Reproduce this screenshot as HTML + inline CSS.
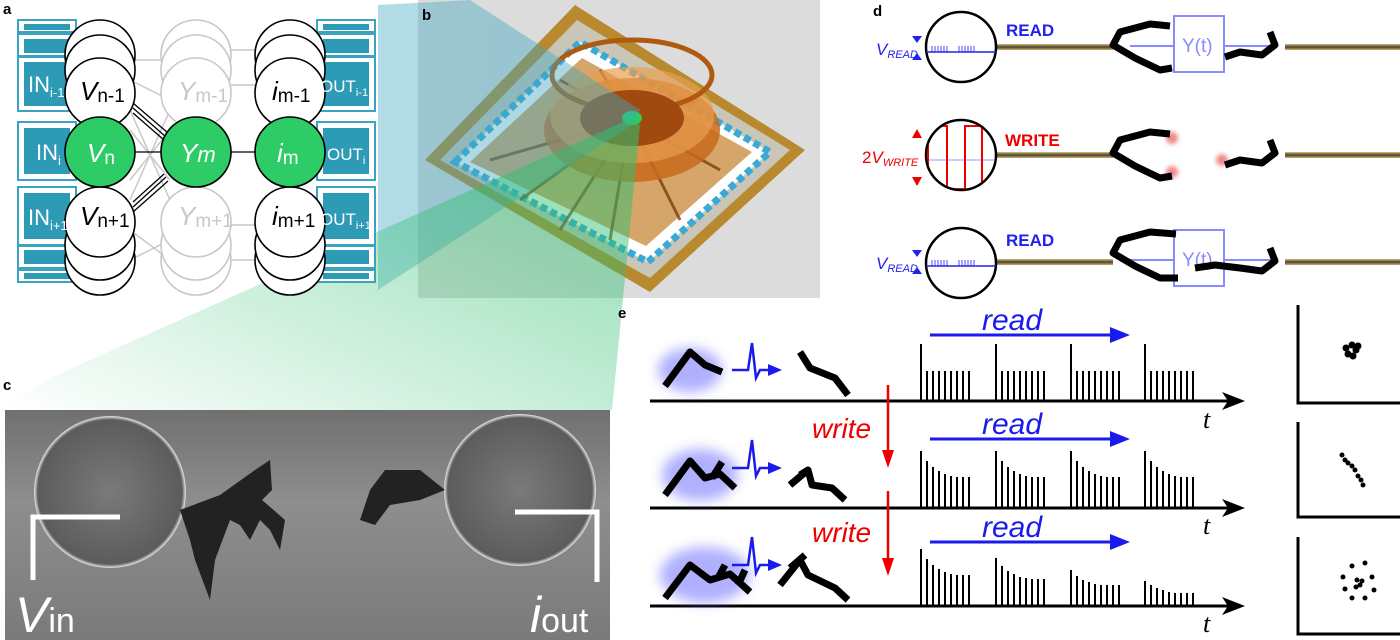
<!DOCTYPE html>
<html><head><meta charset="utf-8"><style>
html,body{margin:0;padding:0;background:#fff;}
svg{display:block;font-family:"Liberation Sans",sans-serif;}
</style></head><body>
<svg width="1400" height="640" viewBox="0 0 1400 640" xmlns="http://www.w3.org/2000/svg">
<defs>
<linearGradient id="tealg" x1="0" y1="0" x2="1" y2="0"><stop offset="0" stop-color="#3fa6c0" stop-opacity="0.4"/><stop offset="1" stop-color="#3fa6c0" stop-opacity="0.45"/></linearGradient>
<linearGradient id="greeng" x1="0" y1="1" x2="1" y2="0"><stop offset="0" stop-color="#2fbf70" stop-opacity="0"/><stop offset="0.5" stop-color="#2fbf70" stop-opacity="0.3"/><stop offset="1" stop-color="#2fbf70" stop-opacity="0.6"/></linearGradient>
<linearGradient id="wire" x1="0" y1="0" x2="0" y2="1"><stop offset="0" stop-color="#d9c27a"/><stop offset="0.5" stop-color="#4a4030"/><stop offset="1" stop-color="#c9b270"/></linearGradient>
<linearGradient id="sem" x1="0" y1="0" x2="0" y2="1"><stop offset="0" stop-color="#707070"/><stop offset="0.4" stop-color="#8e8e8e"/><stop offset="1" stop-color="#7a7a7a"/></linearGradient>
<radialGradient id="disk" cx="0.5" cy="0.5" r="0.5"><stop offset="0" stop-color="#7a7a7a"/><stop offset="0.95" stop-color="#5c5c5c"/><stop offset="1" stop-color="#e8e8e8"/></radialGradient>
<clipPath id="cw"><circle cx="961" cy="155" r="34"/></clipPath>
<filter id="glow"><feGaussianBlur stdDeviation="6"/></filter>
<filter id="bl2"><feGaussianBlur stdDeviation="2"/></filter>
</defs>

<rect x="418" y="0" width="402" height="298" fill="#dcdcdc"/>
<polygon points="425,160 575,5 805,150 650,292" fill="#b8892e"/>
<polygon points="440,160 577,20 790,150 650,278" fill="#c9c6b8"/>
<polygon points="455,162 580,42 770,152 648,262" fill="#ffffff"/>
<polygon points="455,162 580,42 770,152 648,262" fill="none" stroke="#3ba9d6" stroke-width="7" stroke-dasharray="7,4"/>
<polygon points="470,162 582,58 752,152 646,246" fill="#d6a56a"/>
<g stroke="#7a3e12" stroke-width="3" opacity="0.8">
<line x1="630" y1="120" x2="490" y2="160"/><line x1="630" y1="120" x2="520" y2="200"/><line x1="630" y1="120" x2="560" y2="230"/><line x1="630" y1="120" x2="610" y2="240"/><line x1="630" y1="120" x2="680" y2="220"/><line x1="630" y1="120" x2="720" y2="170"/><line x1="630" y1="120" x2="700" y2="100"/><line x1="630" y1="120" x2="560" y2="80"/><line x1="630" y1="120" x2="600" y2="70"/>
</g>
<ellipse cx="632" cy="130" rx="88" ry="52" fill="#c86a1a" opacity="0.85"/>
<ellipse cx="632" cy="115" rx="82" ry="48" fill="#e8a050" opacity="0.7"/>
<ellipse cx="632" cy="75" rx="80" ry="35" fill="none" stroke="#b05a10" stroke-width="5"/>
<ellipse cx="632" cy="118" rx="52" ry="28" fill="#a04a10"/>
<ellipse cx="632" cy="118" rx="10" ry="7" fill="#2ecc60"/>

<polygon points="378,5 470,0 640,110 632,125 378,290" fill="url(#tealg)"/>
<polygon points="0,410 50,378 632,118 640,125 612,410" fill="url(#greeng)"/>

<g stroke="#3aa3c0" stroke-width="2" fill="#fff">
<rect x="18" y="20" width="58" height="12"/><rect x="18" y="34" width="58" height="22"/>
<rect x="18" y="57" width="58" height="54"/><rect x="18" y="122" width="58" height="58"/><rect x="18" y="187" width="58" height="58"/>
<rect x="18" y="246" width="58" height="22"/><rect x="18" y="270" width="58" height="12"/>
<rect x="317" y="20" width="58" height="12"/><rect x="317" y="34" width="58" height="22"/>
<rect x="317" y="57" width="58" height="54"/><rect x="317" y="122" width="58" height="58"/><rect x="317" y="187" width="58" height="58"/>
<rect x="317" y="246" width="58" height="22"/><rect x="317" y="270" width="58" height="12"/>
</g>
<g fill="#2e9bb6">
<rect x="24" y="24" width="46" height="6"/><rect x="24" y="39" width="46" height="14"/><rect x="24" y="62" width="46" height="44"/><rect x="24" y="128" width="46" height="46"/><rect x="24" y="193" width="46" height="46"/><rect x="24" y="250" width="46" height="14"/><rect x="24" y="273" width="46" height="6"/>
<rect x="323" y="24" width="46" height="6"/><rect x="323" y="39" width="46" height="14"/><rect x="323" y="62" width="46" height="44"/><rect x="323" y="128" width="46" height="46"/><rect x="323" y="193" width="46" height="46"/><rect x="323" y="250" width="46" height="14"/><rect x="323" y="273" width="46" height="6"/>
</g>
<g stroke="#c8c8c8" stroke-width="1.5">
<line x1="130" y1="60" x2="170" y2="60"/><line x1="130" y1="80" x2="170" y2="100"/><line x1="130" y1="110" x2="170" y2="200"/><line x1="130" y1="200" x2="170" y2="110"/><line x1="130" y1="230" x2="170" y2="260"/><line x1="130" y1="130" x2="170" y2="180"/><line x1="130" y1="180" x2="170" y2="130"/><line x1="130" y1="260" x2="170" y2="240"/>
<line x1="230" y1="50" x2="260" y2="50"/><line x1="230" y1="85" x2="260" y2="85"/><line x1="230" y1="225" x2="260" y2="225"/><line x1="230" y1="260" x2="260" y2="260"/>
</g>
<g fill="#fff" stroke="#000" stroke-width="1.6">
<circle cx="100" cy="55" r="35"/><circle cx="100" cy="70" r="35"/>
<circle cx="100" cy="260" r="35"/><circle cx="100" cy="245" r="35"/>
<circle cx="290" cy="55" r="35"/><circle cx="290" cy="70" r="35"/>
<circle cx="290" cy="260" r="35"/><circle cx="290" cy="245" r="35"/>
</g>
<g fill="#fff" stroke="#c8c8c8" stroke-width="1.6">
<circle cx="196" cy="55" r="35"/><circle cx="196" cy="70" r="35"/><circle cx="196" cy="93" r="35"/>
<circle cx="196" cy="260" r="35"/><circle cx="196" cy="245" r="35"/><circle cx="196" cy="222" r="35"/>
</g>
<g fill="#fff" stroke="#000" stroke-width="1.6">
<circle cx="100" cy="93" r="35"/><circle cx="100" cy="222" r="35"/>
<circle cx="290" cy="93" r="35"/><circle cx="290" cy="222" r="35"/>
</g>
<g stroke="#000" stroke-width="1.3">
<line x1="133" y1="103" x2="168" y2="133"/><line x1="133" y1="108" x2="166" y2="137"/><line x1="133" y1="113" x2="164" y2="140"/>
<line x1="133" y1="212" x2="168" y2="181"/><line x1="133" y1="207" x2="166" y2="177"/><line x1="133" y1="202" x2="164" y2="174"/>
<line x1="135" y1="152" x2="161" y2="152"/><line x1="231" y1="152" x2="255" y2="152"/>
</g>
<g fill="#2ecc66" stroke="#000" stroke-width="1.6">
<circle cx="100" cy="152" r="35"/><circle cx="196" cy="152" r="35"/><circle cx="290" cy="152" r="35"/>
</g>
<g font-size="22" fill="#fff">
<text x="28" y="92">IN<tspan font-size="13" dy="5">i-1</tspan></text>
<text x="36" y="160">IN<tspan font-size="13" dy="5">i</tspan></text>
<text x="28" y="225">IN<tspan font-size="13" dy="5">i+1</tspan></text>
<text x="320" y="92" font-size="17">OUT<tspan font-size="11" dy="4">i-1</tspan></text>
<text x="327" y="160" font-size="17">OUT<tspan font-size="11" dy="4">i</tspan></text>
<text x="320" y="225" font-size="17">OUT<tspan font-size="11" dy="4">i+1</tspan></text>
</g>
<g font-size="26">
<text x="80" y="100"><tspan font-style="italic">V</tspan><tspan font-size="19" dy="2">n-1</tspan></text>
<text x="80" y="225"><tspan font-style="italic">V</tspan><tspan font-size="19" dy="2">n+1</tspan></text>
<text x="87" y="162" fill="#fff"><tspan font-style="italic">V</tspan><tspan font-size="19" dy="2">n</tspan></text>
<text x="178" y="100" fill="#c8c8c8"><tspan font-style="italic">Y</tspan><tspan font-size="19" dy="2">m-1</tspan></text>
<text x="178" y="225" fill="#c8c8c8"><tspan font-style="italic">Y</tspan><tspan font-size="19" dy="2">m+1</tspan></text>
<text x="180" y="162" fill="#fff" font-style="italic">Y<tspan font-size="22">m</tspan></text>
<text x="272" y="100"><tspan font-style="italic">i</tspan><tspan font-size="19" dy="2">m-1</tspan></text>
<text x="272" y="225"><tspan font-style="italic">i</tspan><tspan font-size="19" dy="2">m+1</tspan></text>
<text x="277" y="162" fill="#fff"><tspan font-style="italic">i</tspan><tspan font-size="19" dy="2">m</tspan></text>
</g>

<rect x="5" y="410" width="605" height="230" fill="url(#sem)"/>
<circle cx="110" cy="492" r="76" fill="url(#disk)"/>
<circle cx="520" cy="490" r="76" fill="url(#disk)"/>
<g fill="#222">
<path d="M180,510 L220,495 L255,470 L270,460 L272,490 L262,500 L285,520 L280,550 L270,530 L260,520 L250,540 L240,525 L230,520 L215,560 L210,600 L195,560 L190,540 Z"/>
<path d="M445,490 L420,470 L385,470 L370,490 L360,520 L375,525 L390,505 L420,500 Z"/>
</g>
<g stroke="#fff" stroke-width="5" fill="none">
<path d="M120,517 L33,517 L33,580"/>
<path d="M515,512 L597,512 L597,582"/>
</g>
<text x="15" y="632" font-size="50" fill="#fff" font-style="italic">V<tspan font-style="normal" font-size="34">in</tspan></text>
<text x="530" y="632" font-size="50" fill="#fff" font-style="italic">i<tspan font-style="normal" font-size="34">out</tspan></text>

<g font-size="15" font-weight="bold">
<text x="3" y="14">a</text><text x="422" y="20">b</text><text x="3" y="390">c</text><text x="873" y="16">d</text><text x="618" y="318">e</text>
</g>

<g>
<rect x="997" y="44" width="116" height="6" fill="url(#wire)"/><rect x="1285" y="44" width="115" height="6" fill="url(#wire)"/>
<rect x="997" y="152" width="116" height="6" fill="url(#wire)"/><rect x="1285" y="152" width="115" height="6" fill="url(#wire)"/>
<rect x="997" y="259" width="116" height="6" fill="url(#wire)"/><rect x="1285" y="259" width="115" height="6" fill="url(#wire)"/>
<g fill="#fff" stroke="#000" stroke-width="2.5">
<circle cx="961" cy="47" r="35"/><circle cx="961" cy="155" r="35"/><circle cx="961" cy="263" r="35"/>
</g>
<g stroke="#2222ee" stroke-width="1.5"><line x1="926" y1="52" x2="996" y2="52"/><line x1="926" y1="266" x2="996" y2="266"/></g>
<g stroke="#2222ee" stroke-width="0.8">
<path d="M932,52v-6M935,52v-6M938,52v-6M941,52v-6M944,52v-6M947,52v-6M959,52v-6M962,52v-6M965,52v-6M968,52v-6M971,52v-6M974,52v-6"/>
<path d="M932,266v-6M935,266v-6M938,266v-6M941,266v-6M944,266v-6M947,266v-6M959,266v-6M962,266v-6M965,266v-6M968,266v-6M971,266v-6M974,266v-6"/>
</g>
<line x1="928" y1="160" x2="994" y2="160" stroke="#9a9aff" stroke-width="1"/>
<g clip-path="url(#cw)">
<polyline points="928,185 928,126 947,126 947,189 965,189 965,126 982,126 982,189 993,189" fill="none" stroke="#e00" stroke-width="2"/>
</g>
<g fill="#2222ee"><polygon points="912,36 922,36 917,43"/><polygon points="912,60 922,60 917,53"/><polygon points="912,250 922,250 917,257"/><polygon points="912,274 922,274 917,267"/></g>
<g fill="#e00"><polygon points="912,138 922,138 917,129"/><polygon points="912,177 922,177 917,186"/></g>
<text x="876" y="55" font-size="17" fill="#2222ee" font-style="italic">V<tspan font-size="11" dy="3">READ</tspan></text>
<text x="876" y="269" font-size="17" fill="#2222ee" font-style="italic">V<tspan font-size="11" dy="3">READ</tspan></text>
<text x="862" y="163" font-size="17" fill="#e00">2<tspan font-style="italic">V</tspan><tspan font-size="11" dy="3" font-style="italic">WRITE</tspan></text>
<text x="1006" y="36" font-size="17" font-weight="bold" fill="#2222ee">READ</text>
<text x="1005" y="146" font-size="17" font-weight="bold" fill="#e00">WRITE</text>
<text x="1006" y="246" font-size="17" font-weight="bold" fill="#2222ee">READ</text>
<g fill="none" stroke="#8a8aff" stroke-width="2">
<rect x="1174" y="16" width="50" height="56"/><line x1="1130" y1="46" x2="1174" y2="46"/><line x1="1224" y1="46" x2="1275" y2="46"/>
<rect x="1174" y="230" width="50" height="56"/><line x1="1130" y1="260" x2="1174" y2="260"/><line x1="1224" y1="260" x2="1275" y2="260"/>
</g>
<text x="1182" y="52" font-size="19" fill="#8a8aff">Y(t)</text>
<text x="1182" y="266" font-size="19" fill="#8a8aff">Y(t)</text>
<g fill="#e88" filter="url(#bl2)"><circle cx="1172" cy="138" r="6"/><circle cx="1172" cy="172" r="6"/><circle cx="1222" cy="160" r="6"/></g>
<g fill="none" stroke="#000" stroke-width="7" stroke-linejoin="round">
<path d="M1170,26 L1150,24 L1120,32 L1113,45 L1135,58 L1160,70 L1172,68"/>
<path d="M1225,57 L1240,52 L1262,55 L1275,45 L1270,32"/>
<path d="M1170,134 L1150,132 L1120,140 L1113,153 L1135,166 L1160,178 L1172,176"/>
<path d="M1225,165 L1240,160 L1262,163 L1275,153 L1270,140"/>
<path d="M1176,234 L1150,232 L1120,240 L1113,253 L1135,266 L1160,278 L1178,278"/>
<path d="M1195,268 L1215,265 L1240,268 L1262,271 L1275,261 L1270,248"/>
</g>
</g>

<g stroke="#000" stroke-width="3">
<line x1="650" y1="401" x2="1236" y2="401"/><line x1="650" y1="508" x2="1236" y2="508"/><line x1="650" y1="606" x2="1236" y2="606"/>
</g>
<g fill="#000"><polygon points="1245,401 1222,392 1228,401 1222,410"/><polygon points="1245,508 1222,499 1228,508 1222,517"/><polygon points="1245,606 1222,597 1228,606 1222,615"/></g>
<g font-size="26" font-style="italic" font-family="Liberation Serif,serif"><text x="1203" y="428">t</text><text x="1203" y="534">t</text><text x="1203" y="632">t</text></g>
<g stroke="#000" stroke-width="2">
<path d="M921,401V344 M927,401V371 M933,401V371 M939,401V371 M945,401V371 M951,401V371 M957,401V371 M963,401V371 M969,401V371
M996,401V344 M1002,401V371 M1008,401V371 M1014,401V371 M1020,401V371 M1026,401V371 M1032,401V371 M1038,401V371 M1044,401V371
M1071,401V344 M1077,401V371 M1083,401V371 M1089,401V371 M1095,401V371 M1101,401V371 M1107,401V371 M1113,401V371 M1119,401V371
M1145,401V344 M1151,401V371 M1157,401V371 M1163,401V371 M1169,401V371 M1175,401V371 M1181,401V371 M1187,401V371 M1193,401V371"/>
<path d="M921,508V451 M927,508V461 M933,508V467 M939,508V471 M945,508V474 M951,508V476 M957,508V477 M963,508V477 M969,508V477
M996,508V451 M1002,508V461 M1008,508V467 M1014,508V471 M1020,508V474 M1026,508V476 M1032,508V477 M1038,508V477 M1044,508V477
M1071,508V451 M1077,508V461 M1083,508V467 M1089,508V471 M1095,508V474 M1101,508V476 M1107,508V477 M1113,508V477 M1119,508V477
M1145,508V451 M1151,508V461 M1157,508V467 M1163,508V471 M1169,508V474 M1175,508V476 M1181,508V477 M1187,508V477 M1193,508V477"/>
<path d="M921,606V549 M927,606V559 M933,606V565 M939,606V569 M945,606V572 M951,606V574 M957,606V575 M963,606V575 M969,606V575
M996,606V558 M1002,606V566 M1008,606V571 M1014,606V574 M1020,606V577 M1026,606V578 M1032,606V579 M1038,606V579 M1044,606V579
M1071,606V570 M1077,606V576 M1083,606V580 M1089,606V582 M1095,606V584 M1101,606V585 M1107,606V585 M1113,606V585 M1119,606V585
M1145,606V581 M1151,606V585 M1157,606V588 M1163,606V590 M1169,606V592 M1175,606V593 M1181,606V593 M1187,606V593 M1193,606V593"/>
</g>
<g stroke="#1a1aee" stroke-width="3"><line x1="930" y1="335" x2="1115" y2="335"/><line x1="930" y1="439" x2="1115" y2="439"/><line x1="930" y1="542" x2="1115" y2="542"/></g>
<g fill="#1a1aee"><polygon points="1130,335 1110,327 1110,343"/><polygon points="1130,439 1110,431 1110,447"/><polygon points="1130,542 1110,534 1110,550"/></g>
<g font-size="30" font-style="italic" fill="#1a1aee"><text x="982" y="330">read</text><text x="982" y="434">read</text><text x="982" y="537">read</text></g>
<g stroke="#ee0000" stroke-width="2.5"><line x1="888" y1="385" x2="888" y2="455"/><line x1="888" y1="491" x2="888" y2="563"/></g>
<g fill="#ee0000"><polygon points="888,468 882,450 894,450"/><polygon points="888,576 882,558 894,558"/></g>
<g font-size="28" font-style="italic" fill="#ee0000"><text x="812" y="438">write</text><text x="812" y="542">write</text></g>
<g fill="#7070ff" opacity="0.55" filter="url(#glow)"><ellipse cx="690" cy="370" rx="32" ry="22"/><ellipse cx="700" cy="475" rx="38" ry="26"/><ellipse cx="705" cy="575" rx="45" ry="28"/></g>
<g fill="none" stroke="#000" stroke-width="7" stroke-linejoin="round">
<path d="M665,386 L690,352 L705,365 L722,372"/>
<path d="M800,352 L810,368 L835,378 L848,395"/>
<path d="M665,495 L690,461 L705,478 L720,474 L735,488 M712,478 L722,462"/>
<path d="M800,475 L808,470 L812,485 L832,488 L845,500 M790,485 L808,470"/>
<path d="M665,598 L690,565 L710,580 L730,574 L750,592 M718,578 L725,565 M738,585 L745,570"/>
<path d="M780,585 L800,560 L808,575 L835,588 L848,600 M790,568 L805,555"/>
</g>
<g fill="none" stroke="#1a1aee" stroke-width="2.5">
<polyline points="732,370 748,370 752,343 756,378 760,370 770,370"/>
<polyline points="732,468 748,468 752,440 756,476 760,468 770,468"/>
<polyline points="732,565 748,565 752,537 756,573 760,565 770,565"/>
</g>
<g fill="#1a1aee"><polygon points="782,370 768,364 768,376"/><polygon points="782,468 768,462 768,474"/><polygon points="782,565 768,559 768,571"/></g>
<g stroke="#000" stroke-width="3" fill="none">
<polyline points="1298,305 1298,403 1400,403"/><polyline points="1298,422 1298,517 1400,517"/><polyline points="1298,537 1298,634 1400,634"/>
</g>
<g fill="#000">
<circle cx="1346" cy="348" r="3.5"/><circle cx="1352" cy="345" r="3.5"/><circle cx="1356" cy="350" r="3.5"/><circle cx="1348" cy="354" r="3.5"/><circle cx="1353" cy="356" r="3.5"/><circle cx="1358" cy="346" r="3.5"/>
<circle cx="1342" cy="455" r="2.5"/><circle cx="1345" cy="460" r="2.5"/><circle cx="1348" cy="463" r="2.5"/><circle cx="1352" cy="466" r="2.5"/><circle cx="1355" cy="470" r="2.5"/><circle cx="1358" cy="476" r="2.5"/><circle cx="1361" cy="480" r="2.5"/><circle cx="1363" cy="485" r="2.5"/>
<circle cx="1343" cy="577" r="2.5"/><circle cx="1352" cy="566" r="2.5"/><circle cx="1365" cy="563" r="2.5"/><circle cx="1372" cy="577" r="2.5"/><circle cx="1374" cy="590" r="2.5"/><circle cx="1365" cy="598" r="2.5"/><circle cx="1352" cy="598" r="2.5"/><circle cx="1345" cy="589" r="2.5"/><circle cx="1357" cy="580" r="2.5"/><circle cx="1360" cy="585" r="2.5"/><circle cx="1356" cy="587" r="2.5"/><circle cx="1362" cy="581" r="2.5"/>
</g>
</svg>
</body></html>
